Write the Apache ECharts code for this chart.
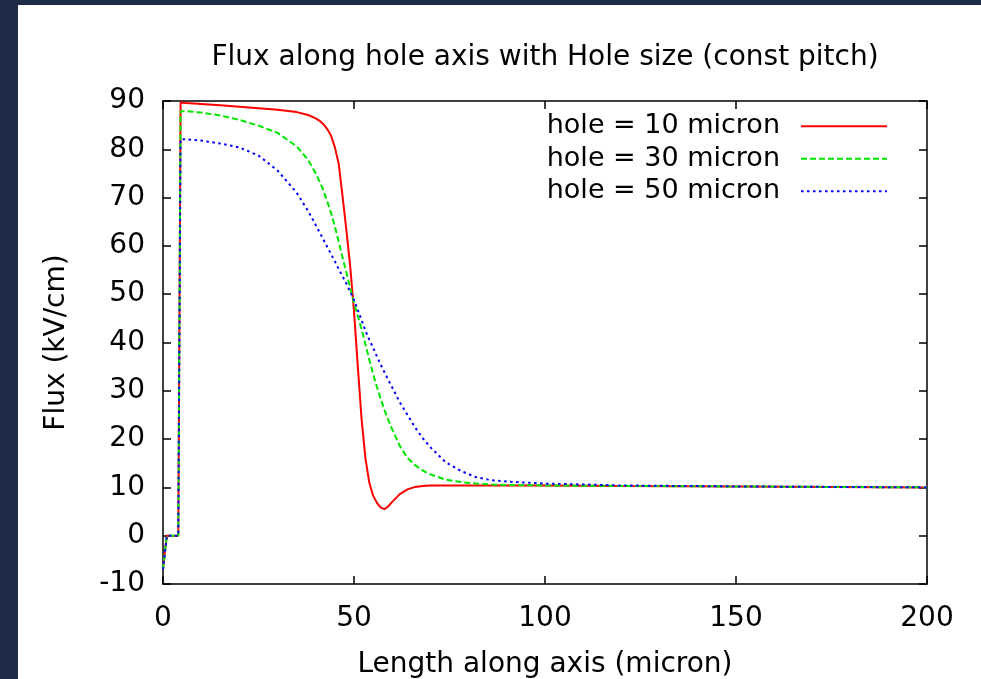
<!DOCTYPE html>
<html>
<head>
<meta charset="utf-8">
<title>Flux along hole axis</title>
<script src="https://cdn.jsdelivr.net/npm/echarts@6/dist/echarts.min.js"></script>
<style>
  html, body { margin: 0; padding: 0; }
  body { width: 981px; height: 679px; background: #1f2c48; position: relative; overflow: hidden; }
  #panel { position: absolute; left: 18px; top: 5px; width: 963px; height: 674px; background: #fff; }
  #chart { position: absolute; left: 0; top: 0; width: 981px; height: 679px; }
</style>
</head>
<body>
<div id="panel"></div>
<div id="chart"></div>
<script>
// x positions along the axis (micron)
const lengthX = [0, 1, 4, 4.6, 6, 10, 15, 20, 25, 30, 35, 38, 40, 41, 42, 43, 44, 45, 46, 47, 48, 49, 50, 51, 52, 53, 54, 55, 56, 57, 58, 59, 60, 62, 64, 66, 68, 70, 74, 78, 82, 86, 90, 100, 120, 150, 200];

// flux (kV/cm) per hole size
const hole10 = [-7, 0, 0, 89.7, 89.6, 89.4, 89.1, 88.8, 88.5, 88.2, 87.7, 87.1, 86.4, 85.9, 85.2, 84.2, 82.8, 80.4, 77.0, 70.3, 63.3, 55.8, 46.5, 35.0, 24.0, 16.0, 11.0, 8.3, 6.8, 5.8, 5.5, 6.1, 7.0, 8.6, 9.6, 10.1, 10.3, 10.4, 10.4, 10.4, 10.4, 10.4, 10.4, 10.4, 10.3, 10.2, 10.0];
const hole30 = [-7, 0, 0, 87.9, 87.9, 87.6, 87.0, 86.1, 84.9, 83.4, 80.6, 77.8, 75.0, 73.3, 71.5, 69.2, 66.8, 64.0, 60.8, 57.6, 54.5, 51.3, 48.2, 45.5, 42.7, 39.6, 36.5, 33.5, 30.8, 28.3, 26.0, 23.9, 22.0, 18.6, 16.1, 14.6, 13.5, 12.7, 11.6, 11.1, 10.8, 10.6, 10.5, 10.4, 10.3, 10.2, 10.0];
const hole50 = [-7, 0, 0, 82.1, 82.1, 81.8, 81.2, 80.4, 78.7, 75.6, 71.0, 67.2, 64.3, 62.8, 61.3, 59.8, 58.3, 56.8, 55.2, 53.7, 52.2, 50.5, 48.8, 46.7, 44.6, 42.4, 40.6, 38.9, 37.1, 35.4, 33.8, 32.2, 30.7, 27.6, 25.0, 22.4, 20.2, 18.3, 15.2, 13.4, 12.1, 11.5, 11.2, 10.8, 10.4, 10.2, 10.0];

const seriesNames = ["hole = 10 micron", "hole = 30 micron", "hole = 50 micron"];
const seriesValues = [hole10, hole30, hole50];
const seriesColors = ["#ff0000", "#00e600", "#0000ff"];
const seriesDash = ["solid", [6, 3], [2.5, 3.5]];

const FONT = "DejaVu Sans";

const chart = echarts.init(document.getElementById("chart"), null, { renderer: "canvas" });

// 边框轴（gnuplot 风格：四周都有向内刻度）
const axisLineStyle = { color: "#000", width: 1.5 };
const makeX = (pos, main) => ({
  type: "value",
  position: pos,
  min: 0,
  max: 200,
  interval: 50,
  axisLine: { show: true, onZero: false, lineStyle: axisLineStyle },
  axisTick: { show: true, inside: true, length: 8, lineStyle: axisLineStyle },
  axisLabel: { show: main, color: "#000", fontSize: 28, fontFamily: FONT, margin: 21 },
  splitLine: { show: false },
  name: main ? "Length along axis (micron)" : "",
  nameLocation: "middle",
  nameGap: 67,
  nameTextStyle: { color: "#000", fontSize: 28, fontFamily: FONT }
});
const makeY = (pos, main) => ({
  type: "value",
  position: pos,
  min: -10,
  max: 90,
  interval: 10,
  axisLine: { show: true, onZero: false, lineStyle: axisLineStyle },
  axisTick: { show: true, inside: true, length: 8, lineStyle: axisLineStyle },
  axisLabel: { show: main, color: "#000", fontSize: 28, fontFamily: FONT, margin: 18 },
  splitLine: { show: false },
  name: main ? "Flux (kV/cm)" : "",
  nameLocation: "middle",
  nameGap: 92,
  nameTextStyle: { color: "#000", fontSize: 28, fontFamily: FONT }
});

const option = {
  animation: false,
  backgroundColor: "transparent",
  title: {
    text: "Flux along hole axis with Hole size (const pitch)",
    left: 545,
    textAlign: "center",
    top: 44,
    padding: 0,
    textStyle: { color: "#000", fontSize: 28, fontWeight: "normal", fontFamily: FONT }
  },
  legend: {
    orient: "vertical",
    right: 93,
    top: 110,
    padding: 0,
    itemGap: 0,
    align: "right",
    itemWidth: 86,
    itemHeight: 14,
    data: seriesNames,
    itemStyle: { opacity: 0 },
    textStyle: { color: "#000", fontSize: 27, fontFamily: FONT, lineHeight: 32.5, padding: [0, 16, 0, 0] }
  },
  grid: { left: 163, top: 101, right: 54, bottom: 95, containLabel: false, outerBoundsMode: "none" },
  xAxis: [makeX("bottom", true), makeX("top", false)],
  yAxis: [makeY("left", true), makeY("right", false)],
  series: seriesNames.map((name, i) => ({
    name: name,
    type: "line",
    xAxisIndex: 0,
    yAxisIndex: 0,
    symbol: "none",
    smooth: false,
    data: lengthX.map((x, k) => [x, seriesValues[i][k]]),
    lineStyle: { color: seriesColors[i], width: 2, type: seriesDash[i] },
    itemStyle: { color: seriesColors[i] }
  }))
};

chart.setOption(option);
</script>
</body>
</html>
